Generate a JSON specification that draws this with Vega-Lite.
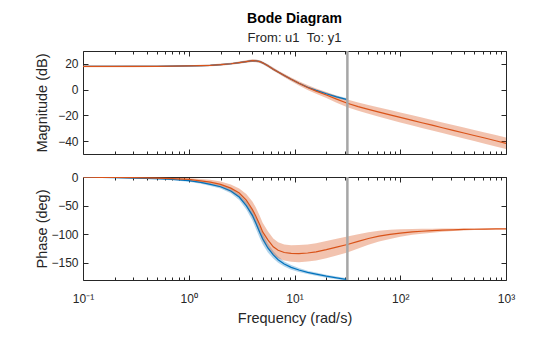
{
  "$schema": "https://vega.github.io/schema/vega-lite/v6.json",
  "padding": {"left": 33, "top": 11, "right": 5, "bottom": 5},
  "config": {
    "font": "Liberation Sans",
    "view": {"stroke": "#262626", "strokeWidth": 1},
    "axis": {"domain": false, "grid": false, "tickColor": "#262626", "labelColor": "#262626", "titleColor": "#262626", "labelFont": "Liberation Sans", "titleFont": "Liberation Sans", "labelFontSize": 12, "titleFontSize": 14.5, "titleFontWeight": "normal", "tickWidth": 1}
  },
  "spacing": 14,
  "datasets": {
    "magBlue": [
      {"w": 0.1, "v": 18.0, "lo": 17.5, "hi": 18.5},
      {"w": 0.15, "v": 18.0, "lo": 17.5, "hi": 18.5},
      {"w": 0.2, "v": 18.0, "lo": 17.5, "hi": 18.5},
      {"w": 0.3, "v": 18.05, "lo": 17.55, "hi": 18.55},
      {"w": 0.5, "v": 18.1, "lo": 17.6, "hi": 18.6},
      {"w": 0.7, "v": 18.2, "lo": 17.7, "hi": 18.7},
      {"w": 1, "v": 18.4, "lo": 17.9, "hi": 18.9},
      {"w": 1.3, "v": 18.6, "lo": 18.0, "hi": 19.2},
      {"w": 1.6, "v": 18.9, "lo": 18.3, "hi": 19.5},
      {"w": 2, "v": 19.4, "lo": 18.8, "hi": 20.0},
      {"w": 2.5, "v": 20.1, "lo": 19.5, "hi": 20.7},
      {"w": 3, "v": 21.0, "lo": 20.3, "hi": 21.7},
      {"w": 3.5, "v": 21.8, "lo": 21.1, "hi": 22.5},
      {"w": 4, "v": 22.5, "lo": 21.7, "hi": 23.3},
      {"w": 4.3, "v": 22.4, "lo": 21.6, "hi": 23.2},
      {"w": 4.7, "v": 21.8, "lo": 20.9, "hi": 22.7},
      {"w": 5, "v": 20.8, "lo": 19.9, "hi": 21.7},
      {"w": 5.6, "v": 18.6, "lo": 17.7, "hi": 19.5},
      {"w": 6.3, "v": 15.9, "lo": 15.0, "hi": 16.8},
      {"w": 7, "v": 13.7, "lo": 12.9, "hi": 14.5},
      {"w": 8, "v": 11.0, "lo": 10.2, "hi": 11.8},
      {"w": 9.3, "v": 8.0, "lo": 7.2, "hi": 8.8},
      {"w": 11, "v": 4.9, "lo": 4.1, "hi": 5.7},
      {"w": 13.3, "v": 1.8, "lo": 1.0, "hi": 2.6},
      {"w": 16, "v": -0.6, "lo": -1.4, "hi": 0.2},
      {"w": 20, "v": -3.2, "lo": -4.1, "hi": -2.3},
      {"w": 25, "v": -5.6, "lo": -6.6, "hi": -4.6},
      {"w": 31.6, "v": -7.8, "lo": -8.9, "hi": -6.7}
    ],
    "magOrange": [
      {"w": 0.1, "v": 18.0, "lo": 17.4, "hi": 18.6},
      {"w": 0.15, "v": 18.0, "lo": 17.4, "hi": 18.6},
      {"w": 0.2, "v": 18.0, "lo": 17.4, "hi": 18.6},
      {"w": 0.3, "v": 18.05, "lo": 17.45, "hi": 18.65},
      {"w": 0.5, "v": 18.1, "lo": 17.5, "hi": 18.7},
      {"w": 0.7, "v": 18.2, "lo": 17.6, "hi": 18.8},
      {"w": 1, "v": 18.4, "lo": 17.8, "hi": 19.0},
      {"w": 1.3, "v": 18.6, "lo": 17.95, "hi": 19.25},
      {"w": 1.6, "v": 18.9, "lo": 18.2, "hi": 19.6},
      {"w": 2, "v": 19.4, "lo": 18.6, "hi": 20.2},
      {"w": 2.5, "v": 20.1, "lo": 19.25, "hi": 20.95},
      {"w": 3, "v": 21.0, "lo": 20.1, "hi": 21.9},
      {"w": 3.5, "v": 21.8, "lo": 20.85, "hi": 22.75},
      {"w": 4, "v": 22.5, "lo": 21.5, "hi": 23.5},
      {"w": 4.3, "v": 22.4, "lo": 21.35, "hi": 23.45},
      {"w": 4.7, "v": 21.8, "lo": 20.7, "hi": 22.9},
      {"w": 5, "v": 20.8, "lo": 19.7, "hi": 21.9},
      {"w": 5.6, "v": 18.6, "lo": 17.45, "hi": 19.75},
      {"w": 6.3, "v": 15.9, "lo": 14.7, "hi": 17.1},
      {"w": 7, "v": 13.7, "lo": 12.45, "hi": 14.95},
      {"w": 8, "v": 11.0, "lo": 9.6, "hi": 12.4},
      {"w": 9.3, "v": 8.0, "lo": 6.5, "hi": 9.5},
      {"w": 11, "v": 4.9, "lo": 3.2, "hi": 6.6},
      {"w": 13.3, "v": 1.6, "lo": -0.3, "hi": 3.5},
      {"w": 16, "v": -1.2, "lo": -3.3, "hi": 0.9},
      {"w": 20, "v": -4.2, "lo": -6.6, "hi": -1.8},
      {"w": 25, "v": -7.4, "lo": -10.1, "hi": -4.7},
      {"w": 31.6, "v": -10.6, "lo": -13.6, "hi": -7.6},
      {"w": 40, "v": -13.2, "lo": -16.4, "hi": -10.0},
      {"w": 50, "v": -15.3, "lo": -18.7, "hi": -11.9},
      {"w": 63, "v": -17.5, "lo": -21.1, "hi": -13.9},
      {"w": 80, "v": -19.6, "lo": -23.4, "hi": -15.8},
      {"w": 100, "v": -21.6, "lo": -25.5, "hi": -17.7},
      {"w": 130, "v": -23.9, "lo": -27.9, "hi": -19.9},
      {"w": 160, "v": -25.7, "lo": -29.75, "hi": -21.65},
      {"w": 200, "v": -27.6, "lo": -31.7, "hi": -23.5},
      {"w": 250, "v": -29.6, "lo": -33.75, "hi": -25.45},
      {"w": 316, "v": -31.6, "lo": -35.8, "hi": -27.4},
      {"w": 400, "v": -33.7, "lo": -37.95, "hi": -29.45},
      {"w": 500, "v": -35.6, "lo": -39.9, "hi": -31.3},
      {"w": 630, "v": -37.6, "lo": -41.95, "hi": -33.25},
      {"w": 800, "v": -39.7, "lo": -44.1, "hi": -35.3},
      {"w": 1000, "v": -41.7, "lo": -46.2, "hi": -37.2}
    ],
    "phBlue": [
      {"w": 0.1, "v": -0.6, "lo": -1.0, "hi": -0.2},
      {"w": 0.15, "v": -0.9, "lo": -1.4, "hi": -0.4},
      {"w": 0.2, "v": -1.2, "lo": -1.8, "hi": -0.6},
      {"w": 0.3, "v": -1.8, "lo": -2.6, "hi": -1.0},
      {"w": 0.5, "v": -3.1, "lo": -4.2, "hi": -2.0},
      {"w": 0.7, "v": -4.4, "lo": -5.8, "hi": -3.0},
      {"w": 1, "v": -6.5, "lo": -8.3, "hi": -4.7},
      {"w": 1.3, "v": -9.5, "lo": -11.7, "hi": -7.3},
      {"w": 1.6, "v": -13, "lo": -15.6, "hi": -10.4},
      {"w": 2, "v": -17, "lo": -20, "hi": -14},
      {"w": 2.5, "v": -24.5, "lo": -28.3, "hi": -20.7},
      {"w": 3, "v": -35, "lo": -40, "hi": -30},
      {"w": 3.5, "v": -50, "lo": -57, "hi": -43},
      {"w": 4, "v": -67, "lo": -76, "hi": -58},
      {"w": 4.3, "v": -80, "lo": -90, "hi": -70},
      {"w": 4.7, "v": -97, "lo": -107, "hi": -87},
      {"w": 5, "v": -108, "lo": -117.5, "hi": -98.5},
      {"w": 5.6, "v": -124, "lo": -132, "hi": -116},
      {"w": 6.3, "v": -136, "lo": -142.5, "hi": -129.5},
      {"w": 7, "v": -144.5, "lo": -150, "hi": -139},
      {"w": 8, "v": -152, "lo": -156.5, "hi": -147.5},
      {"w": 9.3, "v": -158, "lo": -162, "hi": -154},
      {"w": 11, "v": -162.5, "lo": -166, "hi": -159},
      {"w": 13.3, "v": -166.7, "lo": -169.7, "hi": -163.7},
      {"w": 16, "v": -169.8, "lo": -172.6, "hi": -167},
      {"w": 20, "v": -173.3, "lo": -175.9, "hi": -170.7},
      {"w": 25, "v": -176.3, "lo": -178.7, "hi": -173.9},
      {"w": 31.6, "v": -179.3, "lo": -181.5, "hi": -177.1}
    ],
    "phOrange": [
      {"w": 0.1, "v": -0.3, "lo": -0.6, "hi": 0.0},
      {"w": 0.15, "v": -0.5, "lo": -0.9, "hi": -0.1},
      {"w": 0.2, "v": -0.7, "lo": -1.2, "hi": -0.2},
      {"w": 0.3, "v": -1.1, "lo": -1.9, "hi": -0.3},
      {"w": 0.5, "v": -1.9, "lo": -3.1, "hi": -0.7},
      {"w": 0.7, "v": -2.8, "lo": -4.5, "hi": -1.1},
      {"w": 1, "v": -4.3, "lo": -6.8, "hi": -1.8},
      {"w": 1.3, "v": -6.8, "lo": -10.3, "hi": -3.3},
      {"w": 1.6, "v": -9, "lo": -13, "hi": -5},
      {"w": 2, "v": -12.8, "lo": -17.8, "hi": -7.8},
      {"w": 2.5, "v": -19.5, "lo": -26, "hi": -13},
      {"w": 3, "v": -28, "lo": -36, "hi": -20},
      {"w": 3.5, "v": -40.5, "lo": -51.5, "hi": -29.5},
      {"w": 4, "v": -57, "lo": -71, "hi": -43},
      {"w": 4.3, "v": -68, "lo": -83, "hi": -53},
      {"w": 4.7, "v": -84, "lo": -100, "hi": -68},
      {"w": 5, "v": -96, "lo": -112, "hi": -80},
      {"w": 5.6, "v": -110, "lo": -125, "hi": -95},
      {"w": 6.3, "v": -122, "lo": -136.5, "hi": -107.5},
      {"w": 7, "v": -128, "lo": -142, "hi": -114},
      {"w": 8, "v": -132, "lo": -146, "hi": -118},
      {"w": 9.3, "v": -133.6, "lo": -148.1, "hi": -119.1},
      {"w": 11, "v": -134, "lo": -149, "hi": -119},
      {"w": 13.3, "v": -132.8, "lo": -147.8, "hi": -117.8},
      {"w": 16, "v": -130.8, "lo": -145.8, "hi": -115.8},
      {"w": 20, "v": -127, "lo": -142, "hi": -112},
      {"w": 25, "v": -122.5, "lo": -137, "hi": -108},
      {"w": 31.6, "v": -118, "lo": -132, "hi": -104},
      {"w": 40, "v": -112.5, "lo": -125, "hi": -100},
      {"w": 50, "v": -107.5, "lo": -118.5, "hi": -96.5},
      {"w": 63, "v": -103.3, "lo": -112.8, "hi": -93.8},
      {"w": 80, "v": -100.2, "lo": -108.2, "hi": -92.2},
      {"w": 100, "v": -98, "lo": -104.5, "hi": -91.5},
      {"w": 130, "v": -96, "lo": -101, "hi": -91},
      {"w": 160, "v": -94.8, "lo": -99, "hi": -90.6},
      {"w": 200, "v": -93.8, "lo": -97.3, "hi": -90.3},
      {"w": 250, "v": -93, "lo": -95.8, "hi": -90.2},
      {"w": 316, "v": -92.3, "lo": -94.5, "hi": -90.1},
      {"w": 400, "v": -91.7, "lo": -93.5, "hi": -89.9},
      {"w": 500, "v": -91.3, "lo": -92.8, "hi": -89.8},
      {"w": 630, "v": -91, "lo": -92.2, "hi": -89.8},
      {"w": 800, "v": -90.8, "lo": -91.8, "hi": -89.8},
      {"w": 1000, "v": -90.6, "lo": -91.4, "hi": -89.8}
    ],
    "nyq": [{"w": 31.6228}]
  },
  "vconcat": [
    {
      "title": {"text": "Bode Diagram", "subtitle": "From: u1\u00a0\u00a0To: y1", "fontSize": 14, "fontWeight": "bold", "color": "#000000", "subtitleFontSize": 13, "subtitleColor": "#262626", "subtitleFont": "Liberation Sans", "font": "Liberation Sans", "anchor": "middle", "offset": 5, "subtitlePadding": 6},
      "width": 423,
      "height": 103,
      "layer": [
        {
          "data": {"name": "magBlue"},
          "mark": {"type": "area", "color": "#0072BD", "opacity": 0.3, "clip": true},
          "encoding": {
            "x": {"field": "w", "type": "quantitative", "scale": {"type": "log", "domain": [0.1, 1000], "nice": false},
                  "axis": {"orient": "bottom", "values": [0.1, 1, 10, 100, 1000], "tickSize": -5, "labels": false, "title": null}},
            "y": {"field": "lo", "type": "quantitative", "scale": {"domain": [-50, 30], "nice": false, "zero": false},
                  "axis": {"orient": "left", "values": [-40, -20, 0, 20], "tickSize": -5, "labelPadding": 10, "title": "Magnitude (dB)", "minExtent": 27, "maxExtent": 27, "titlePadding": 7}},
            "y2": {"field": "hi"}
          }
        },
        {
          "data": {"name": "magOrange"},
          "mark": {"type": "area", "color": "#D95319", "opacity": 0.35, "clip": true},
          "encoding": {
            "x": {"field": "w", "type": "quantitative", "scale": {"type": "log", "domain": [0.1, 1000], "nice": false},
                  "axis": {"orient": "bottom", "values": [0.2,0.3,0.4,0.5,0.6,0.7,0.8,0.9,2,3,4,5,6,7,8,9,20,30,40,50,60,70,80,90,200,300,400,500,600,700,800,900], "tickSize": -3, "labels": false, "title": null}},
            "y": {"field": "lo", "type": "quantitative", "scale": {"domain": [-50, 30], "nice": false, "zero": false},
                  "axis": {"orient": "right", "values": [-40, -20, 0, 20], "tickSize": -5, "labels": false, "title": null}},
            "y2": {"field": "hi"}
          }
        },
        {
          "data": {"name": "magBlue"},
          "mark": {"type": "line", "color": "#0072BD", "strokeWidth": 1.2, "clip": true},
          "encoding": {
            "x": {"field": "w", "type": "quantitative", "scale": {"type": "log", "domain": [0.1, 1000], "nice": false},
                  "axis": {"orient": "top", "values": [0.1, 1, 10, 100, 1000], "tickSize": -5, "labels": false, "title": null}},
            "y": {"field": "v", "type": "quantitative", "scale": {"domain": [-50, 30], "nice": false, "zero": false}, "axis": null}
          }
        },
        {
          "data": {"name": "magOrange"},
          "mark": {"type": "line", "color": "#D95319", "strokeWidth": 1.2, "clip": true},
          "encoding": {
            "x": {"field": "w", "type": "quantitative", "scale": {"type": "log", "domain": [0.1, 1000], "nice": false},
                  "axis": {"orient": "top", "values": [0.2,0.3,0.4,0.5,0.6,0.7,0.8,0.9,2,3,4,5,6,7,8,9,20,30,40,50,60,70,80,90,200,300,400,500,600,700,800,900], "tickSize": -3, "labels": false, "title": null}},
            "y": {"field": "v", "type": "quantitative", "scale": {"domain": [-50, 30], "nice": false, "zero": false}, "axis": null}
          }
        },
        {
          "data": {"name": "nyq"},
          "mark": {"type": "rule", "color": "#A6A6A6", "strokeWidth": 2.5},
          "encoding": {
            "x": {"field": "w", "type": "quantitative", "scale": {"type": "log", "domain": [0.1, 1000], "nice": false}, "axis": null}
          }
        }
      ],
      "resolve": {"axis": {"x": "independent", "y": "independent"}}
    },
    {
      "width": 423,
      "height": 103,
      "layer": [
        {
          "data": {"name": "phBlue"},
          "mark": {"type": "area", "color": "#0072BD", "opacity": 0.3, "clip": true},
          "encoding": {
            "x": {"field": "w", "type": "quantitative", "scale": {"type": "log", "domain": [0.1, 1000], "nice": false},
                  "axis": {"orient": "bottom", "values": [0.1, 1, 10, 100, 1000], "tickSize": -5, "labelPadding": 18, "labelFontSize": 12, "labelFlush": false, "labelOverlap": false,
                           "labelExpr": "datum.value < 0.5 ? '10⁻¹' : datum.value < 5 ? '10⁰' : datum.value < 50 ? '10¹' : datum.value < 500 ? '10²' : '10³'",
                           "title": "Frequency (rad/s)", "minExtent": 20, "maxExtent": 20, "titlePadding": 11}},
            "y": {"field": "lo", "type": "quantitative", "scale": {"domain": [-180, 0], "nice": false, "zero": false},
                  "axis": {"orient": "left", "values": [-150, -100, -50, 0], "tickSize": -5, "labelPadding": 10, "title": "Phase (deg)", "minExtent": 27, "maxExtent": 27, "titlePadding": 7}},
            "y2": {"field": "hi"}
          }
        },
        {
          "data": {"name": "phOrange"},
          "mark": {"type": "area", "color": "#D95319", "opacity": 0.35, "clip": true},
          "encoding": {
            "x": {"field": "w", "type": "quantitative", "scale": {"type": "log", "domain": [0.1, 1000], "nice": false},
                  "axis": {"orient": "bottom", "values": [0.2,0.3,0.4,0.5,0.6,0.7,0.8,0.9,2,3,4,5,6,7,8,9,20,30,40,50,60,70,80,90,200,300,400,500,600,700,800,900], "tickSize": -3, "labels": false, "title": null}},
            "y": {"field": "lo", "type": "quantitative", "scale": {"domain": [-180, 0], "nice": false, "zero": false},
                  "axis": {"orient": "right", "values": [-150, -100, -50, 0], "tickSize": -5, "labels": false, "title": null}},
            "y2": {"field": "hi"}
          }
        },
        {
          "data": {"name": "phBlue"},
          "mark": {"type": "line", "color": "#0072BD", "strokeWidth": 1.2, "clip": true},
          "encoding": {
            "x": {"field": "w", "type": "quantitative", "scale": {"type": "log", "domain": [0.1, 1000], "nice": false},
                  "axis": {"orient": "top", "values": [0.1, 1, 10, 100, 1000], "tickSize": -5, "labels": false, "title": null}},
            "y": {"field": "v", "type": "quantitative", "scale": {"domain": [-180, 0], "nice": false, "zero": false}, "axis": null}
          }
        },
        {
          "data": {"name": "phOrange"},
          "mark": {"type": "line", "color": "#D95319", "strokeWidth": 1.2, "clip": true},
          "encoding": {
            "x": {"field": "w", "type": "quantitative", "scale": {"type": "log", "domain": [0.1, 1000], "nice": false},
                  "axis": {"orient": "top", "values": [0.2,0.3,0.4,0.5,0.6,0.7,0.8,0.9,2,3,4,5,6,7,8,9,20,30,40,50,60,70,80,90,200,300,400,500,600,700,800,900], "tickSize": -3, "labels": false, "title": null}},
            "y": {"field": "v", "type": "quantitative", "scale": {"domain": [-180, 0], "nice": false, "zero": false}, "axis": null}
          }
        },
        {
          "data": {"name": "nyq"},
          "mark": {"type": "rule", "color": "#A6A6A6", "strokeWidth": 2.5},
          "encoding": {
            "x": {"field": "w", "type": "quantitative", "scale": {"type": "log", "domain": [0.1, 1000], "nice": false}, "axis": null}
          }
        }
      ],
      "resolve": {"axis": {"x": "independent", "y": "independent"}}
    }
  ]
}
